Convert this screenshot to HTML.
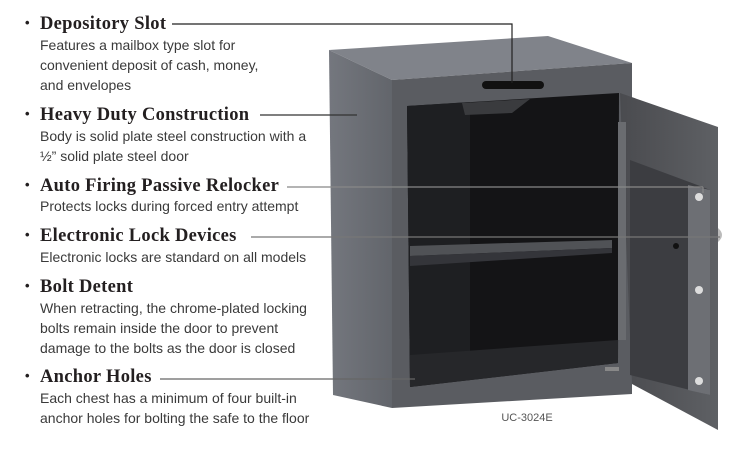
<!DOCTYPE html>
<html><head><meta charset="utf-8"><style>
body{margin:0;width:737px;height:475px;background:#fff;position:relative;overflow:hidden}
.h{position:absolute;left:40px;font:bold 18.5px "Liberation Serif",serif;letter-spacing:0.3px;color:#231f20;white-space:nowrap;line-height:20px}
.h:before{content:"•";position:absolute;left:-15px;font:bold 13px "Liberation Sans",sans-serif;top:1px}
.b{position:absolute;left:40px;font:14px "Liberation Sans",sans-serif;color:#3a3a3a;white-space:nowrap;line-height:20px}
svg{position:absolute;left:0;top:0}
</style></head><body>
<svg width="737" height="475" viewBox="0 0 737 475">
<defs>
<linearGradient id="side" x1="0" x2="1"><stop offset="0" stop-color="#74777e"/><stop offset="1" stop-color="#62656b"/></linearGradient>
<linearGradient id="door" x1="0" x2="1"><stop offset="0" stop-color="#4a4b4f"/><stop offset="1" stop-color="#5e6064"/></linearGradient>
</defs>
<polygon points="329,50 548,36 632,63 392,80" fill="#80838a"/>
<polygon points="329,50 392,80 392,408 333,395" fill="url(#side)"/>
<polygon points="392,80 632,63 632,394 392,408" fill="#5a5c61"/>
<polygon points="407,106 619,93 618,363 410,387" fill="#141416"/>
<polygon points="407,106 470,102 470,370 410,387" fill="#1e1f22"/>
<polygon points="410,246 612,240 612,248 410,256" fill="#505256"/>
<polygon points="410,256 612,248 612,253 410,266" fill="#34353a"/>
<polygon points="410,355 618,340 618,363 410,387" fill="#26272a"/>
<rect x="482" y="81" width="62" height="8" rx="4" fill="#111"/>
<polygon points="462,103 530,99 512,113 465,115" fill="#3a3b3e"/>
<polygon points="620,93 718,127 718,430 632,384" fill="url(#door)"/>
<polygon points="618,122 626,122 626,340 618,340" fill="#6a6c70"/>
<polygon points="630,160 700,186 710,190 710,395 630,375" fill="#3c3d41"/>
<polygon points="688,185 710,190 710,395 688,390" fill="#6d6f74"/>
<circle cx="699" cy="197" r="4" fill="#ddd"/>
<circle cx="699" cy="290" r="4" fill="#ddd"/>
<circle cx="699" cy="381" r="4" fill="#ddd"/>
<circle cx="676" cy="246" r="3" fill="#111"/>
<path d="M718,228 q8,7 0,14 z" fill="#bbb"/>
<rect x="605" y="367" width="14" height="4" fill="#888"/>
<g fill="none" stroke-width="1.2">
<polyline points="172,24 512,24 512,83" stroke="#222"/>
<line x1="260" y1="115" x2="357" y2="115" stroke="#333"/>
<line x1="287" y1="187" x2="703" y2="187" stroke="#888"/>
<line x1="703" y1="187" x2="703" y2="193" stroke="#888"/>
<line x1="251" y1="237" x2="720" y2="237" stroke="#777"/>
<line x1="160" y1="379" x2="415" y2="379" stroke="#666"/>
</g>
<text x="527" y="421" font-family="Liberation Sans,sans-serif" font-size="11" fill="#555" text-anchor="middle">UC-3024E</text>
</svg>
<div class="h" style="top:14px">Depository Slot</div>
<div class="b" style="top:35px">Features a mailbox type slot for</div>
<div class="b" style="top:55px">convenient deposit of cash, money,</div>
<div class="b" style="top:75px">and envelopes</div>
<div class="h" style="top:105px">Heavy Duty Construction</div>
<div class="b" style="top:126px">Body is solid plate steel construction with a</div>
<div class="b" style="top:146px">½” solid plate steel door</div>
<div class="h" style="top:176px">Auto Firing Passive Relocker</div>
<div class="b" style="top:196px">Protects locks during forced entry attempt</div>
<div class="h" style="top:226px">Electronic Lock Devices</div>
<div class="b" style="top:247px">Electronic locks are standard on all models</div>
<div class="h" style="top:277px">Bolt Detent</div>
<div class="b" style="top:298px">When retracting, the chrome-plated locking</div>
<div class="b" style="top:318px">bolts remain inside the door to prevent</div>
<div class="b" style="top:338px">damage to the bolts as the door is closed</div>
<div class="h" style="top:367px">Anchor Holes</div>
<div class="b" style="top:388px">Each chest has a minimum of four built-in</div>
<div class="b" style="top:408px">anchor holes for bolting the safe to the floor</div>
</body></html>
